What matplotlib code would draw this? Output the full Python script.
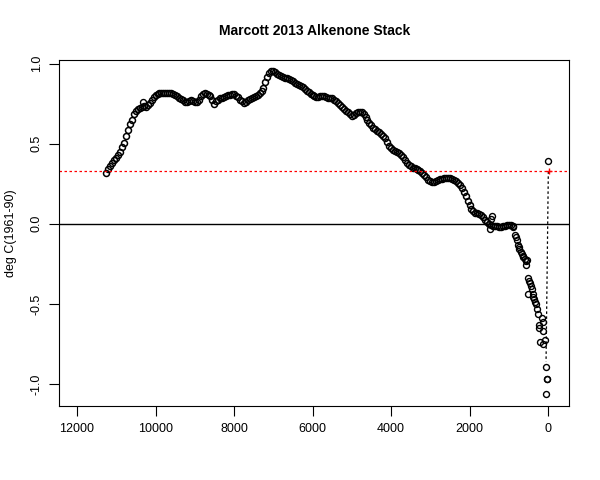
import numpy as np
import matplotlib
matplotlib.use("Agg")
import matplotlib.pyplot as plt

plt.rcParams['font.family'] = ['Liberation Sans', 'DejaVu Sans']

# main stack, 50-year steps starting at 11250 BP
temps = [0.32, 0.34, 0.36, 0.38, 0.395, 0.41, 0.43, 0.45, 0.48, 0.505,
         0.545, 0.585, 0.62, 0.65, 0.685, 0.705, 0.715, 0.725, 0.73, 0.735,
         0.73, 0.74, 0.755, 0.775, 0.79, 0.805, 0.81, 0.813, 0.815, 0.816,
         0.816, 0.816, 0.815, 0.814, 0.81, 0.805, 0.798, 0.788, 0.778, 0.77,
         0.763, 0.76, 0.765, 0.77, 0.768, 0.763, 0.76, 0.775, 0.795, 0.81,
         0.815, 0.812, 0.805, 0.795, 0.77, 0.75, 0.765, 0.775, 0.782, 0.788,
         0.793, 0.797, 0.801, 0.805, 0.808, 0.808, 0.80, 0.79, 0.775, 0.765,
         0.755, 0.76, 0.77, 0.778, 0.785, 0.79, 0.795, 0.805, 0.815, 0.828,
         0.85, 0.885, 0.915, 0.94, 0.952, 0.955, 0.948, 0.937, 0.928, 0.922,
         0.918, 0.912, 0.908, 0.903, 0.897, 0.89, 0.88, 0.87, 0.865, 0.862,
         0.855, 0.843, 0.83, 0.82, 0.81, 0.803, 0.795, 0.79, 0.792, 0.795,
         0.798, 0.797, 0.792, 0.787, 0.785, 0.783, 0.775, 0.765, 0.752, 0.74,
         0.728, 0.716, 0.705, 0.695, 0.682, 0.675, 0.68, 0.69, 0.698, 0.70,
         0.70, 0.685, 0.665, 0.645, 0.63, 0.615, 0.60, 0.59, 0.58, 0.57,
         0.56, 0.55, 0.535, 0.51, 0.485, 0.47, 0.462, 0.456, 0.45, 0.443,
         0.432, 0.415, 0.395, 0.378, 0.366, 0.358, 0.35, 0.345, 0.34, 0.335,
         0.328, 0.318, 0.305, 0.29, 0.275, 0.264, 0.26, 0.262, 0.266, 0.272,
         0.278, 0.282, 0.284, 0.285, 0.285, 0.283, 0.279, 0.274, 0.266, 0.256,
         0.243, 0.223, 0.2, 0.172, 0.142, 0.115, 0.09, 0.078, 0.07, 0.065,
         0.058, 0.052, 0.04, 0.025, 0.01, -0.003, -0.01, -0.013, -0.015, -0.016,
         -0.017, -0.017, -0.016, -0.013, -0.01, -0.008, -0.006, -0.012]
ages = 11250 - 50 * np.arange(len(temps))

# scattered points (recent end + a few strays)
tail_age = [10330, 1480, 1460, 1435, 880, 840, 820, 800, 770, 750, 730, 700,
            670, 650, 630, 590, 560, 530, 560, 500, 480, 460, 500, 440, 415,
            390, 370, 355, 330, 305, 270, 245, 160, 120, 220, 220, 135, 205,
            135, 75, 50, 33, 28, 50, -8]
tail_temp = [0.76, -0.033, 0.03, 0.046, -0.02, -0.07, -0.085, -0.10, -0.13,
             -0.145, -0.16, -0.175, -0.19, -0.20, -0.21, -0.22, -0.235, -0.225,
             -0.256, -0.34, -0.355, -0.37, -0.44, -0.39, -0.41, -0.44, -0.455,
             -0.47, -0.485, -0.50, -0.53, -0.56, -0.59, -0.61, -0.63, -0.65,
             -0.667, -0.735, -0.75, -0.725, -0.895, -0.97, -0.97, -1.06, 0.39]

ref_level = 0.327
ref_age = -20
drop_age = [-8, 50]
drop_temp = [0.327, -0.86]

fig = plt.figure(figsize=(6, 4.8), dpi=100)
ax = fig.add_axes([0.099, 0.154, 0.85, 0.722])

ax.plot(ages, temps, 'o', mfc='none', mec='black', ms=4.3, mew=1.1)
ax.plot(tail_age, tail_temp, 'o', mfc='none', mec='black', ms=4.3, mew=1.0)
ax.axhline(0, color='black', lw=1)
ax.axhline(ref_level, color='red', lw=0.9, ls=(0, (2, 2)))
ax.plot(drop_age, drop_temp, color='black', lw=0.9, ls=(0, (2, 2)))
ax.plot([ref_age], [ref_level], '+', color='red', ms=5, mew=1)

ax.set_xlim(12450, -545)
ax.set_ylim(-1.1375, 1.025)
ax.set_xticks([12000, 10000, 8000, 6000, 4000, 2000, 0])
ax.set_yticks([-1.0, -0.5, 0.0, 0.5, 1.0])
ax.set_yticklabels(['-1.0', '-0.5', '0.0', '0.5', '1.0'], rotation=90, va='center')
ax.tick_params(direction='out', length=7, width=0.8, labelsize=9, pad=5)
for s in ax.spines.values():
    s.set_linewidth(0.8)

ax.set_ylabel('deg C(1961-90)', fontsize=9, labelpad=10)
ax.set_title('Marcott 2013 Alkenone Stack', fontsize=10, fontweight='bold', pad=18)

fig.savefig('out.png', dpi=100)
